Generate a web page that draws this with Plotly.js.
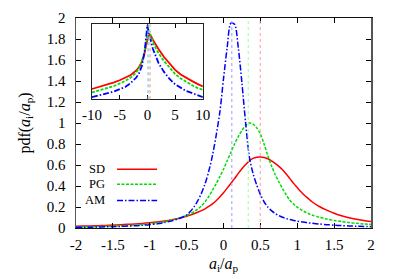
<!DOCTYPE html>
<html>
<head>
<meta charset="utf-8">
<script src="https://cdn.plot.ly/plotly-3.0.1.min.js"></script>
<style>html,body{margin:0;padding:0;background:#fff;}#chart{width:399px;height:279px;}</style>
</head>
<body>
<div id="chart"></div>
<script>
// ---- data ----
const seriesNames = ['SD', 'PG', 'AM'];
const seriesColors = ['#ff0000', '#00dd00', '#0000ff'];
const meanColors = ['#ff9a9a', '#9aff9a', '#9a9aff'];
const seriesDash = ['solid', '3px,1.5px', '6px,2px,1.5px,2px'];

// mean values (vertical dotted lines)
const means = [0.498, 0.335, 0.113];

// main panel x grid
const x = [-2,-1.9,-1.8,-1.7,-1.6,-1.5,-1.4,-1.3,-1.2,-1.1,-1,-0.9,-0.8,-0.7,-0.6,
  -0.55,-0.5,-0.45,-0.4,-0.35,-0.3,-0.25,-0.2,-0.15,-0.1,-0.05,0,0.05,0.1,0.15,0.2,0.25,0.3,0.35,0.4,0.45,0.5,0.55,0.6,0.65,0.7,0.75,0.8,0.85,0.9,0.95,1,1.05,1.1,1.15,1.2,
  1.3,1.4,1.5,1.6,1.7,1.8,1.9,2];

const sd = [0.016,0.018,0.020,0.022,0.025,0.028,0.031,0.035,0.039,0.044,0.050,0.057,0.066,0.078,0.093,
  0.102,0.112,0.123,0.136,0.150,0.165,0.183,0.205,0.230,0.260,0.295,0.335,0.380,0.425,0.470,0.520,0.565,0.605,0.640,0.663,0.674,0.677,0.672,0.660,0.640,0.615,0.587,0.555,0.515,0.470,0.425,0.385,0.345,0.310,0.280,0.250,
  0.205,0.170,0.140,0.117,0.098,0.083,0.071,0.061];

const pg = [0.010,0.011,0.012,0.014,0.016,0.018,0.020,0.023,0.027,0.033,0.040,0.048,0.060,0.076,0.095,
  0.107,0.120,0.135,0.155,0.180,0.210,0.250,0.300,0.360,0.420,0.490,0.560,0.640,0.720,0.800,0.870,0.930,0.975,1.000,0.990,0.955,0.895,0.800,0.690,0.595,0.510,0.440,0.375,0.315,0.265,0.228,0.198,0.175,0.155,0.138,0.124,
  0.102,0.085,0.072,0.061,0.052,0.045,0.039,0.034];

const am = [0.006,0.007,0.008,0.009,0.011,0.013,0.015,0.018,0.021,0.026,0.032,0.040,0.052,0.068,0.090,
  0.105,0.125,0.158,0.200,0.258,0.330,0.420,0.540,0.690,0.880,1.100,1.420,1.720,1.950,1.940,1.720,1.380,1.000,0.680,0.520,0.410,0.320,0.250,0.200,0.165,0.138,0.118,0.102,0.090,0.080,0.072,0.065,0.059,0.054,0.049,0.045,
  0.038,0.032,0.027,0.023,0.020,0.017,0.015,0.013];

// inset (log y)
const xIn = [-10,-9,-8,-7,-6,-5,-4,-3,-2,-1.5,-1,-0.5,-0.25,0,0.2,0.4,0.7,1,1.5,2,3,4,5,6,7,8,9,10];
const sdIn = [0.00105,0.00126,0.00149,0.00182,0.00225,0.0029,0.0038,0.0054,0.0091,0.0137,0.0245,0.070,0.16,0.36,0.51,0.60,0.48,0.32,0.18,0.112,0.044,0.0195,0.0097,0.0057,0.0038,0.0027,0.0019,0.0014];
const pgIn = [0.0007,0.00083,0.00099,0.0012,0.00149,0.002,0.00268,0.004,0.0072,0.0122,0.0245,0.0885,0.25,0.73,1.09,0.82,0.45,0.253,0.125,0.07,0.0276,0.0122,0.006,0.0036,0.0024,0.00168,0.0012,0.00094];
const amIn = [0.00041,0.00047,0.00055,0.00066,0.00079,0.001,0.00133,0.00212,0.004,0.0066,0.0154,0.079,0.32,1.84,0.82,0.51,0.225,0.112,0.05,0.022,0.0077,0.0034,0.0018,0.0012,0.00083,0.00066,0.00052,0.00041];

// ticks
const xTicks = [-2,-1.5,-1,-0.5,0,0.5,1,1.5,2];
const xTickText = ['-2','-1.5','-1','-0.5','0','0.5','1','1.5','2'];
const yTicks = [0,0.2,0.4,0.6,0.8,1,1.2,1.4,1.6,1.8,2];
const yTickText = ['0','0.2','0.4','0.6','0.8','1','1.2','1.4','1.6','1.8','2'];
const xInTicks = [-10,-5,0,5,10];
const xInTickText = ['-10','-5','0','5','10'];

// ---- build ----
const FONT = 'Liberation Serif';
function tf(size) { return {family: FONT, size: size, color: '#000'}; }
const mainY = [sd, pg, am];
const insetY = [sdIn, pgIn, amIn];
const traces = [];
mainY.forEach((ys, i) => {
  traces.push({x: x, y: ys, xaxis: 'x', yaxis: 'y', type: 'scatter', mode: 'lines', name: seriesNames[i],
    line: {color: seriesColors[i], width: 1.5, dash: seriesDash[i], shape: 'spline', smoothing: 0.8},
    showlegend: false});
});
insetY.forEach((ys, i) => {
  traces.push({x: xIn, y: ys, xaxis: 'x2', yaxis: 'y2', type: 'scatter', mode: 'lines', name: seriesNames[i] + ' (inset)',
    line: {color: seriesColors[i], width: 1.8, dash: seriesDash[i]}, showlegend: false});
});

const shapes = [];
const annotations = [];
means.forEach((m, i) => {
  shapes.push({type: 'line', xref: 'x', yref: 'y domain', x0: m, x1: m, y0: 0, y1: 1,
    line: {color: meanColors[i], width: 1, dash: 'dot'}});
  shapes.push({type: 'line', xref: 'x2', yref: 'y2 domain', x0: m, x1: m, y0: 0, y1: 1,
    line: {color: meanColors[i], width: 1, dash: 'dot'}});
});

// gnuplot-style legend (text left, line sample right)
const legY = [0.28, 0.208, 0.131];
seriesNames.forEach((n, i) => {
  annotations.push({xref: 'paper', yref: 'paper', x: 0.105, y: legY[i], xanchor: 'right', yanchor: 'middle',
    text: n, showarrow: false, font: tf(12.5)});
  shapes.push({type: 'line', xref: 'paper', yref: 'paper', x0: 0.139, x1: 0.275, y0: legY[i], y1: legY[i],
    line: {color: seriesColors[i], width: 1.5, dash: seriesDash[i]}});
});

const layout = {
  width: 399, height: 279,
  margin: {l: 76, r: 28, t: 18, b: 51},
  paper_bgcolor: '#fff', plot_bgcolor: '#fff',
  showlegend: false,
  font: {family: FONT, color: '#000'},
  xaxis: {domain: [0, 1], range: [-2, 2], tickvals: xTicks, ticktext: xTickText, ticks: 'inside', ticklen: 5,
    tickcolor: '#000', showline: true, mirror: 'ticks', linecolor: '#111', linewidth: 1, showgrid: false, zeroline: false,
    tickfont: tf(15), ticklabelstandoff: 3,
    title: {text: '<i>a</i><sub>i</sub>/<i>a</i><sub>p</sub>', font: tf(16), standoff: 5}},
  yaxis: {domain: [0, 1], range: [0, 2], tickvals: yTicks, ticktext: yTickText, ticks: 'inside', ticklen: 5,
    tickcolor: '#000', showline: true, mirror: 'ticks', linecolor: '#555', linewidth: 1.5, showgrid: false, zeroline: false,
    tickfont: tf(15), ticklabelstandoff: 6,
    title: {text: 'pdf(<i>a</i><sub>i</sub>/<i>a</i><sub>p</sub>)', font: tf(16), standoff: 12}},
  xaxis2: {domain: [0.054, 0.43], anchor: 'y2', range: [-10, 10], tickvals: xInTicks, ticktext: xInTickText,
    ticks: 'inside', ticklen: 4, tickcolor: '#000', showline: true, mirror: 'ticks', linecolor: '#222', linewidth: 1,
    showgrid: false, zeroline: false, tickfont: tf(15), ticklabelstandoff: 2},
  yaxis2: {domain: [0.613, 0.97], anchor: 'x2', type: 'log', range: [-3.5, 0.3], showticklabels: false, ticks: '',
    showline: true, mirror: true, linecolor: '#222', linewidth: 1, showgrid: false, zeroline: false},
  shapes: shapes,
  annotations: annotations
};

Plotly.newPlot('chart', traces, layout, {staticPlot: true, displayModeBar: false});
</script>
</body>
</html>
